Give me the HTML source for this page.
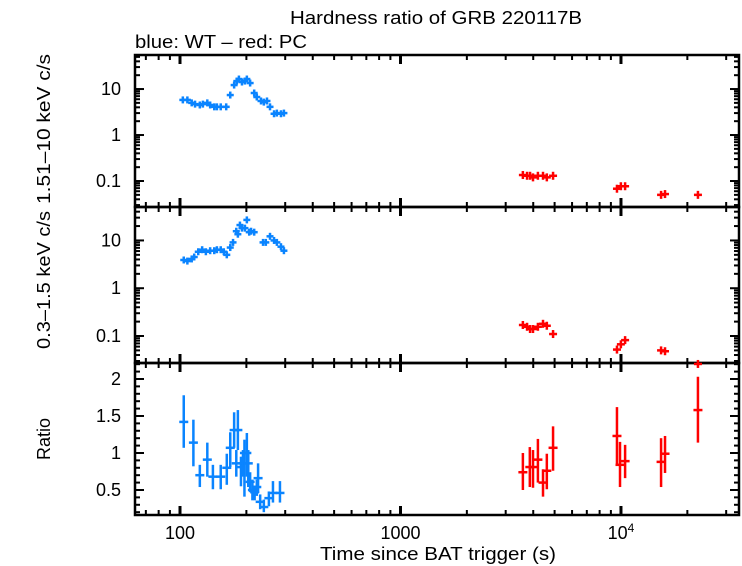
<!DOCTYPE html>
<html><head><meta charset="utf-8"><style>
body{margin:0;background:#fff}
svg{display:block;font-family:"Liberation Sans",sans-serif}
</style></head><body>
<svg id="c" width="742" height="566">
<text x="290" y="24" font-size="18" textLength="292" lengthAdjust="spacingAndGlyphs">Hardness ratio of GRB 220117B</text>
<text x="135" y="48" font-size="18" textLength="172" lengthAdjust="spacingAndGlyphs">blue: WT – red: PC</text>
<text x="320" y="560" font-size="18" textLength="236" lengthAdjust="spacingAndGlyphs">Time since BAT trigger (s)</text>
<text transform="translate(50,129) rotate(-90)" font-size="18" text-anchor="middle" textLength="150" lengthAdjust="spacingAndGlyphs">1.51–10 keV c/s</text>
<text transform="translate(50,280) rotate(-90)" font-size="18" text-anchor="middle" textLength="138" lengthAdjust="spacingAndGlyphs">0.3–1.5 keV c/s</text>
<text transform="translate(50,439) rotate(-90)" font-size="18" text-anchor="middle">Ratio</text>
</svg>
<script>
// ---- data ----
const wtHardT=[103,108,113,117,123,127,133,137,143,147,153,162,169,176,181,185,191,197,201,208,217,223,233,240,248,256,267,275,287,296];
const wtHardV=[5.8,5.8,5.0,4.7,4.5,4.7,5.0,4.5,4.1,4.1,4.1,4.1,7.4,12.2,14.9,16.5,14.2,14.9,16.5,13.5,8.2,6.7,5.5,5.2,5.5,4.1,2.9,3.0,2.9,3.0];
const wtSoftT=[104,108,113,116,121,126,131,137,143,147,153,158,163,169,174,180,183,187,191,197,201,206,210,217,238,245,256,267,275,287,296];
const wtSoftV=[3.9,3.7,4.1,4.5,5.8,6.4,5.8,6.1,6.1,6.4,6.4,5.8,5.0,7.1,9.1,15.6,13.5,21,18.1,18.1,26.9,14.9,15.6,14.9,9.1,9.1,12.2,10,9.1,7.4,6.1];
const wtRatT=[104,115,123,133,141,153,163,169,176,183,180,189,193,196,201,204,208,213,218,223,226,231,240,253,264,284];
const wtRatV=[1.42,1.14,0.70,0.91,0.68,0.68,0.80,1.07,1.31,1.31,0.86,0.81,0.86,1.0,1.0,0.86,0.61,0.50,0.47,0.54,0.66,0.34,0.27,0.39,0.46,0.46];
const wtRatLo=[1.07,0.82,0.54,0.68,0.51,0.51,0.57,0.81,1.07,1.04,0.68,0.55,0.68,0.41,0.68,0.54,0.47,0.36,0.36,0.42,0.46,0.24,0.20,0.28,0.33,0.33];
const wtRatHi=[1.78,1.45,0.84,1.14,0.84,0.84,0.99,1.28,1.55,1.58,1.04,0.95,1.04,1.18,1.27,1.04,0.74,0.64,0.56,0.64,0.86,0.44,0.37,0.48,0.62,0.62];
const pcT=[3590,3750,3870,3990,4200,4430,4610,4920,9590,9990,10440,15200,15840,22340];
const pcHardV=[0.135,0.13,0.13,0.12,0.13,0.13,0.12,0.13,0.068,0.077,0.077,0.05,0.052,0.05];
const pcSoftV=[0.17,0.156,0.14,0.14,0.156,0.18,0.164,0.11,0.052,0.067,0.082,0.05,0.048,0.026];
const pcRatV=[0.74,0.81,0.81,0.91,0.60,0.76,1.07,null,1.23,0.84,0.89,0.88,0.99,1.58];
const pcRatLo=[0.50,0.54,0.53,0.60,0.41,0.51,0.76,null,0.84,0.54,0.66,0.54,0.73,1.14];
const pcRatHi=[1.0,1.08,1.04,1.19,0.78,0.99,1.36,null,1.62,1.15,1.11,1.20,1.23,2.03];
const pcRatT=[3590,3860,3990,4200,4430,4610,4920,null,9590,9900,10440,15200,15840,22340];
const xTickVals=[100,1000,10000];
const topTicks=[0.1,1,10];
const ratTicks=[0.5,1,1.5,2];

// ---- axes ----
const L=135,R=739;
const xl=Math.log10(62.5),xh=Math.log10(34300);
const X=t=>L+(Math.log10(t)-xl)/(xh-xl)*(R-L);
const P1={t:55,b:207,lo:-1.565,hi:1.74};
const P2={t:207,b:363,lo:-1.565,hi:1.70};
const P3={t:363,b:515,lo:0.162,hi:2.216};
const Ylog=(p,v)=>p.b-(Math.log10(v)-p.lo)/(p.hi-p.lo)*(p.b-p.t);
const Ylin=(p,v)=>p.b-(v-p.lo)/(p.hi-p.lo)*(p.b-p.t);
const svg=document.getElementById('c');
const NS='http://www.w3.org/2000/svg';
function mk(tag,a,parent){const e=document.createElementNS(NS,tag);for(const k in a)e.setAttribute(k,a[k]);(parent||svg).appendChild(e);return e;}
function ln(x1,y1,x2,y2,c,w,g){return mk('line',{x1,y1,x2,y2,stroke:c,'stroke-width':w},g);}

const axG=mk('g',{});


[P1,P2,P3].forEach(p=>{
  mk('rect',{x:L,y:p.t,width:R-L,height:p.b-p.t,fill:'none',stroke:'#000','stroke-width':2.5},axG);
  for(let d=1;d<=4;d++)for(let m=1;m<10;m++){const t=m*Math.pow(10,d);const x=X(t);if(x<L||x>R)continue;
    const len=m===1?9:5, w=m===1?3:2;
    ln(x,p.b,x,p.b-len,'#000',w,axG);ln(x,p.t,x,p.t+len,'#000',w,axG);}
});
[P1,P2].forEach((p,i)=>{
  for(let d=-2;d<=1;d++)for(let m=1;m<10;m++){const v=m*Math.pow(10,d);const y=Ylog(p,v);if(y<p.t||y>p.b)continue;
    const len=m===1?9:5;ln(L,y,L+len,y,'#000',2,axG);ln(R,y,R-len,y,'#000',2,axG);}
  topTicks.forEach(v=>{const tx=mk('text',{x:L-14,y:Ylog(p,v)+6,'font-size':18,'text-anchor':'end'});tx.textContent=v;
    
    });
});
for(let v=0.2;v<2.21;v+=0.1){const y=Ylin(P3,v);const maj=Math.abs(v*2-Math.round(v*2))<1e-6;const len=maj?9:5;
  ln(L,y,L+len,y,'#000',2,axG);ln(R,y,R-len,y,'#000',2,axG);}
ratTicks.forEach(v=>{const tx=mk('text',{x:L-14,y:Ylin(P3,v)+6,'font-size':18,'text-anchor':'end'});tx.textContent=v;
  
  });
xTickVals.forEach(v=>{const tx=mk('text',{x:X(v),y:539,'font-size':18,'text-anchor':'middle'});
  if(v===10000){tx.textContent='10';const s=mk('tspan',{dy:-7,'font-size':12},tx);s.textContent='4';}else tx.textContent=v;
  
  });

// ---- series ----
function cross(T,V,p,c,hx,hy,name){const g=mk('g',{});
  
  
  T.forEach((t,i)=>{const x=X(t),y=Ylog(p,V[i]);ln(x-hx,y,x+hx,y,c,2.5,g);ln(x,y-hy,x,y+hy,c,2.5,g);});}
function ratio(T,V,Lo,Hi,c,hx,name){const g=mk('g',{});
  
  
  T.forEach((t,i)=>{if(t==null)return;const x=X(t),y=Ylin(P3,V[i]);ln(x-hx,y,x+hx,y,c,2.5,g);ln(x,Ylin(P3,Lo[i]),x,Ylin(P3,Hi[i]),c,2.5,g);});}
const B='#0a84ff',Rd='#f00';
cross(wtHardT,wtHardV,P1,B,3.5,3.5,'wt-hard-series');
cross(pcT,pcHardV,P1,Rd,4,4,'pc-hard-series');
cross(wtSoftT,wtSoftV,P2,B,3.5,3.5,'wt-soft-series');
cross(pcT,pcSoftV,P2,Rd,4,4,'pc-soft-series');
ratio(wtRatT,wtRatV,wtRatLo,wtRatHi,B,4.5,'wt-ratio-series');
ratio(pcRatT,pcRatV,pcRatLo,pcRatHi,Rd,4.5,'pc-ratio-series');
</script>
</body></html>
